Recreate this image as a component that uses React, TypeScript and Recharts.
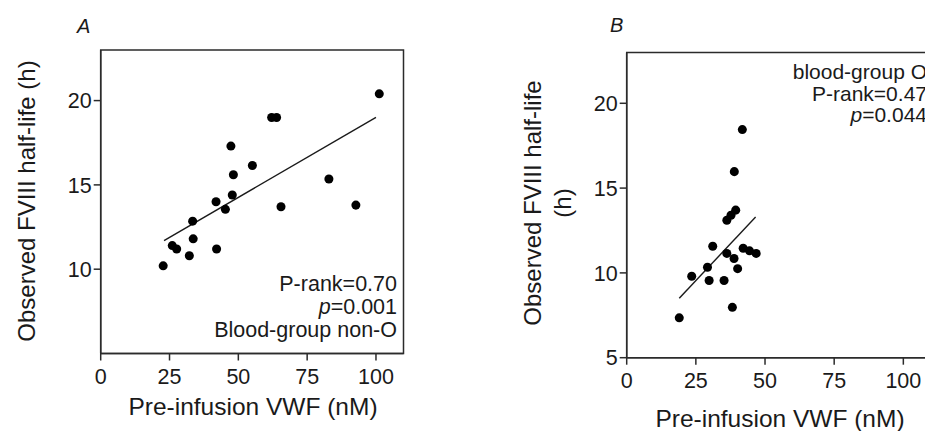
import React from 'react';
import { ScatterChart, Scatter, XAxis, YAxis, ZAxis, ReferenceArea, ReferenceLine } from 'recharts';

// A: blood-group non-O
const nonOVwf = [22.7, 26.0, 27.6, 32.2, 33.4, 33.6, 42.1, 41.9, 45.3, 47.8, 48.2, 47.3, 55.1, 62.1, 63.9, 65.5, 82.9, 92.7, 101.2];
const nonOHalfLife = [10.2, 11.4, 11.2, 10.8, 12.85, 11.8, 11.2, 14.0, 13.55, 14.4, 15.6, 17.3, 16.15, 19.0, 19.0, 13.7, 15.35, 13.8, 20.4];
const nonOFit = [{ x: 23, y: 11.7 }, { x: 100, y: 19.0 }];

// B: blood-group O
const oVwf = [19.0, 23.5, 29.2, 29.8, 31.1, 35.2, 38.2, 36.2, 38.8, 40.1, 36.2, 37.7, 39.4, 38.9, 41.8, 42.1, 44.4, 46.8];
const oHalfLife = [7.35, 9.8, 10.33, 9.55, 11.57, 9.55, 7.97, 11.15, 10.85, 10.25, 13.1, 13.4, 13.7, 15.97, 18.45, 11.45, 11.3, 11.15];
const oFit = [{ x: 19, y: 8.5 }, { x: 46.6, y: 13.3 }];

const xTicks = [0, 25, 50, 75, 100];
const yTicksA = [10, 15, 20];
const yTicksB = [5, 10, 15, 20];

const FONT = '"Liberation Sans", Arial, sans-serif';
const AXIS = '#2b2b2b';
const INK = '#1a1a1a';

const toPoints = (xs: number[], ys: number[]) => xs.map((x, i) => ({ x, y: ys[i] }));

function Panel(props: {
  left: number; width: number; top: number; bottom: number; yAxisW: number; right: number;
  data: { x: number; y: number }[]; fit: { x: number; y: number }[]; yTicks: number[];
}) {
  const { left, width, top, bottom, yAxisW, right, data, fit, yTicks } = props;
  const tickStyle = { fontSize: 21.5, fill: INK, fontFamily: FONT };
  return (
    <div style={{ position: 'absolute', left, top: 0 }}>
      <ScatterChart width={width} height={431} margin={{ top, right, bottom: 0, left: 0 }}>
        <XAxis
          type="number" dataKey="x" domain={[0, 110]} ticks={xTicks} height={431 - bottom}
          stroke={AXIS} strokeWidth={1.5} tickSize={7} tickMargin={8} tick={tickStyle}
        />
        <YAxis
          type="number" dataKey="y" domain={[5, 23]} ticks={yTicks} width={yAxisW}
          stroke={AXIS} strokeWidth={1.5} tickSize={7} tickMargin={2} tick={tickStyle}
        />
        <ZAxis range={[118, 118]} />
        <ReferenceArea x1={0} x2={110} y1={5} y2={23} fill="none" stroke={AXIS} strokeWidth={1.5} ifOverflow="visible" />
        <ReferenceLine segment={fit} stroke={INK} strokeWidth={1.4} />
        <Scatter data={data} fill="#000" isAnimationActive={false} />
      </ScatterChart>
    </div>
  );
}

export default function App() {
  return (
    <div style={{ position: 'fixed', left: 0, top: 0, width: 925, height: 431, overflow: 'hidden', background: '#fff' }}>
      <Panel left={0} width={470} top={50} bottom={353.5} yAxisW={100.7} right={66.5}
        data={toPoints(nonOVwf, nonOHalfLife)} fit={nonOFit} yTicks={yTicksA} />
      <Panel left={470} width={480} top={52.4} bottom={357.7} yAxisW={156.7} right={19}
        data={toPoints(oVwf, oHalfLife)} fit={oFit} yTicks={yTicksB} />
      <svg width={925} height={431} style={{ position: 'absolute', left: 0, top: 0, pointerEvents: 'none' }}
        fontFamily={FONT} fill={INK}>
        <text x={77} y={33} fontSize={20} fontStyle="italic">A</text>
        <text x={610} y={32} fontSize={20} fontStyle="italic">B</text>

        <text x={35} y={201} fontSize={24} textAnchor="middle" transform="rotate(-90 35 201)">Observed FVIII half-life (h)</text>
        <text x={253} y={415} fontSize={24.5} textAnchor="middle">Pre-infusion VWF (nM)</text>
        <text x={541} y={203} fontSize={24} textAnchor="middle" transform="rotate(-90 541 203)">Observed FVIII half-life</text>
        <text x={571} y={203} fontSize={24} textAnchor="middle" transform="rotate(-90 571 203)">(h)</text>
        <text x={780} y={427} fontSize={24.5} textAnchor="middle">Pre-infusion VWF (nM)</text>

        <g fontSize={21.5} textAnchor="end">
          <text x={397} y={291}>P-rank=0.70</text>
          <text x={397} y={314}><tspan fontStyle="italic">p</tspan>=0.001</text>
          <text x={397} y={337}>Blood-group non-O</text>
        </g>
        <g fontSize={21} textAnchor="end">
          <text x={927} y={79}>blood-group O</text>
          <text x={927} y={100.5}>P-rank=0.47</text>
          <text x={927} y={121.5}><tspan fontStyle="italic">p</tspan>=0.044</text>
        </g>
      </svg>
    </div>
  );
}
